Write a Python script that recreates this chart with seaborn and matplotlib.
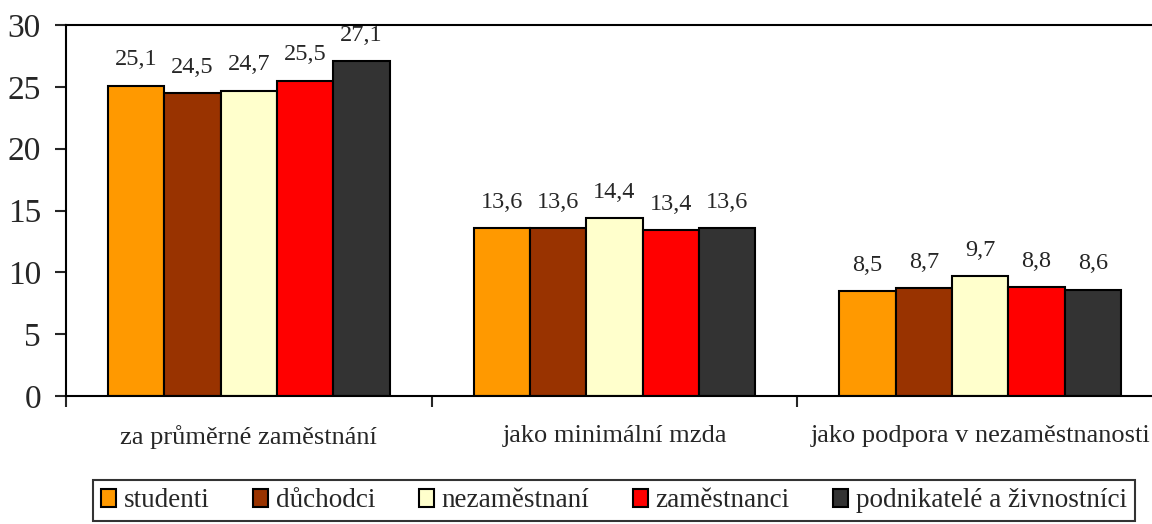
import numpy as np
import pandas as pd
import matplotlib
matplotlib.use("Agg")
import matplotlib.pyplot as plt
import seaborn as sns

categories = ["za průměrné zaměstnání", "jako minimální mzda", "jako podpora v nezaměstnanosti"]
groups = ["studenti", "důchodci", "nezaměstnaní", "zaměstnanci", "podnikatelé a živnostníci"]
studenti = [25.1, 13.6, 8.5]
duchodci = [24.5, 13.6, 8.7]
nezamestnani = [24.7, 14.4, 9.7]
zamestnanci = [25.5, 13.4, 8.8]
podnikatele = [27.1, 13.6, 8.6]
colors = ["#FF9900", "#993300", "#FFFFCC", "#FF0000", "#333333"]

rows = []
for g, vals in zip(groups, [studenti, duchodci, nezamestnani, zamestnanci, podnikatele]):
    for c, v in zip(categories, vals):
        rows.append({"kategorie": c, "skupina": g, "hodnota": v})
df = pd.DataFrame(rows)

sns.set_style("white")
plt.rcParams["font.family"] = ["Liberation Serif", "DejaVu Serif"]

fig = plt.figure(figsize=(11.52, 5.24), dpi=100)
ax = fig.add_axes([66 / 1152, 128 / 524, 1097 / 1152, 371 / 524])

sns.barplot(data=df, x="kategorie", y="hodnota", hue="skupina", order=categories,
            hue_order=groups, palette=colors, width=0.77, edgecolor="black",
            linewidth=1.5, saturation=1, ax=ax, legend=True)

# value labels with decimal comma
for cont in ax.containers:
    ax.bar_label(cont, labels=[f"{v:.1f}".replace(".", ",") for v in cont.datavalues],
                 padding=11, fontsize=17.5)

ax.set_xlim(-0.5, 2.5)
ax.set_ylim(0, 30)
ax.set_yticks(range(0, 31, 5))
ax.tick_params(axis="y", labelsize=24, length=8, width=1.5, direction="out", left=True, pad=10)
ax.tick_params(axis="x", which="major", length=0, labelsize=19, pad=21)
ax.set_xticks([-0.5, 0.5, 1.5, 2.5], minor=True)
ax.tick_params(axis="x", which="minor", length=8, width=1.5, direction="out", bottom=True)
ax.set_xlabel("")
ax.set_ylabel("")
for s in ["left", "bottom", "top"]:
    ax.spines[s].set_visible(True)
    ax.spines[s].set_color("black")
    ax.spines[s].set_linewidth(1.5)

ax.get_legend().remove()
handles, labels = ax.get_legend_handles_labels()
leg = fig.legend(handles, labels, loc="lower center", bbox_to_anchor=(614 / 1152, 0.0),
                 ncol=5, fontsize=19.5, frameon=True, fancybox=False, edgecolor="black",
                 handlelength=0.55, handleheight=0.65, handletextpad=0.3, columnspacing=1.6,
                 borderpad=0.3, borderaxespad=0.1)
leg.get_frame().set_linewidth(1.5)

fig.savefig("out.png", dpi=100)
